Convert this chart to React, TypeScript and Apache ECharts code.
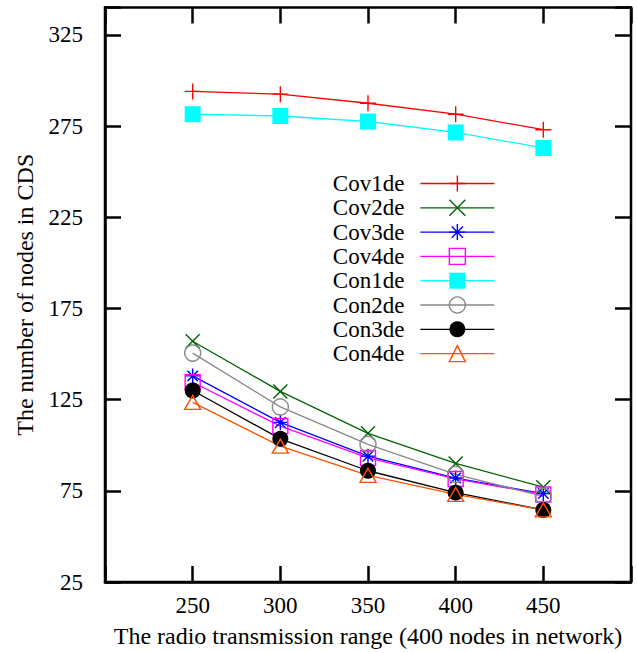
import React, { useEffect, useRef } from "react";
import * as echarts from "echarts";

// Radio transmission range (x) for 400 nodes in the network
const ranges = [250, 300, 350, 400, 450];

// Number of nodes in the CDS for each construction
const cov1de = [294, 292.5, 287.5, 281.5, 273];
const cov2de = [157, 129.5, 106.5, 90, 77];
const cov3de = [138, 112.5, 94, 82, 73.5];
const cov4de = [134.5, 110.5, 93, 81.5, 73];
const con1de = [281.5, 280.5, 277.5, 271.5, 263];
const con2de = [150.5, 121, 100.5, 84, 72];
const con3de = [130, 103.5, 86, 74, 64.5];
const con4de = [123.5, 99.5, 83.5, 73, 64.5];

const xTickLabels = [250, 300, 350, 400, 450];
const yTickLabels = [25, 75, 125, 175, 225, 275, 325];

const FONT = "'Liberation Serif', 'Times New Roman', serif";

const PLUS = "path://M5,0 L5,10 M0,5 L10,5";
const CROSS = "path://M0,0 L10,10 M10,0 L0,10";
const STAR = "path://M5,0 L5,10 M0,5 L10,5 M1.5,1.5 L8.5,8.5 M8.5,1.5 L1.5,8.5";

type Spec = {
  name: string;
  values: number[];
  color: string;
  symbol: string;
  size: number | number[];
  filled: boolean;
};

const specs: Spec[] = [
  { name: "Cov1de", values: cov1de, color: "#ff0000", symbol: PLUS, size: 16, filled: false },
  { name: "Cov2de", values: cov2de, color: "#006400", symbol: CROSS, size: 14, filled: false },
  { name: "Cov3de", values: cov3de, color: "#0000ff", symbol: STAR, size: 15, filled: false },
  { name: "Cov4de", values: cov4de, color: "#ff00ff", symbol: "rect", size: 15, filled: false },
  { name: "Con1de", values: con1de, color: "#00ffff", symbol: "rect", size: 16, filled: true },
  { name: "Con2de", values: con2de, color: "#888888", symbol: "circle", size: 16, filled: false },
  { name: "Con3de", values: con3de, color: "#000000", symbol: "circle", size: 16, filled: true },
  { name: "Con4de", values: con4de, color: "#ff4f00", symbol: "triangle", size: [16, 14], filled: false },
];

export default function App() {
  const ref = useRef<HTMLDivElement>(null);

  useEffect(() => {
    if (!ref.current) return;
    const chart = echarts.init(ref.current, undefined, { renderer: "svg" });

    const series = specs.map((s) => ({
      name: s.name,
      type: "line",
      data: ranges.map((x, i) => [x, s.values[i]]),
      symbol: s.symbol,
      symbolSize: s.size,
      showAllSymbol: true,
      lineStyle: { color: s.color, width: 1.3 },
      itemStyle: {
        color: s.filled ? s.color : "rgba(255,255,255,0)",
        borderColor: s.color,
        borderWidth: s.filled ? 0 : 1.4,
      },
      emphasis: { disabled: true },
    }));

    const labelX = (v: number) => (xTickLabels.includes(v) ? String(v) : "");
    const labelY = (v: number) => (yTickLabels.includes(v) ? String(v) : "");

    const tickCommon = {
      show: true,
      inside: true,
      length: 16,
      lineStyle: { color: "#000", width: 2.5 },
    };

    chart.setOption({
      animation: false,
      backgroundColor: "#ffffff",
      textStyle: { fontFamily: FONT },
      grid: {
        left: 105,
        right: 6,
        top: 7.5,
        bottom: 70,
        show: true,
        borderColor: "#000",
        borderWidth: 2.5,
        backgroundColor: "transparent",
      },
      legend: {
        show: true,
        orient: "vertical",
        align: "right",
        right: 142,
        top: 172,
        padding: 0,
        itemWidth: 74,
        itemHeight: 20,
        itemGap: 1.3,
        selectedMode: false,
        textStyle: {
          fontFamily: FONT,
          fontSize: 23,
          color: "#000",
          padding: [0, 11, 0, 0],
        },
        data: specs.map((s) => ({
          name: s.name,
          itemStyle: {
            color: s.filled ? s.color : "rgba(255,255,255,0)",
            borderColor: s.color,
            borderWidth: s.filled ? 0 : 1.4,
          },
          lineStyle: { color: s.color, width: 1.3 },
        })),
      },
      xAxis: [
        {
          type: "value",
          min: 200,
          max: 500,
          interval: 50,
          position: "bottom",
          name: "The radio transmission range (400 nodes in network)",
          nameLocation: "middle",
          nameGap: 42,
          nameTextStyle: { fontFamily: FONT, fontSize: 24, color: "#000" },
          axisLine: { show: true, lineStyle: { color: "#000", width: 2.5 } },
          axisTick: tickCommon,
          axisLabel: {
            formatter: labelX,
            fontFamily: FONT,
            fontSize: 23,
            color: "#000",
            margin: 12,
          },
          splitLine: { show: false },
        },
        {
          type: "value",
          min: 200,
          max: 500,
          interval: 50,
          position: "top",
          axisLine: { show: false },
          axisTick: tickCommon,
          axisLabel: { show: false },
          splitLine: { show: false },
        },
      ],
      yAxis: [
        {
          type: "value",
          min: 25,
          max: 340,
          interval: 50,
          position: "left",
          name: "The number of nodes in CDS",
          nameLocation: "middle",
          nameGap: 68,
          nameTextStyle: { fontFamily: FONT, fontSize: 24, color: "#000" },
          axisLine: { show: true, lineStyle: { color: "#000", width: 2.5 } },
          axisTick: tickCommon,
          axisLabel: {
            formatter: labelY,
            fontFamily: FONT,
            fontSize: 23,
            color: "#000",
            margin: 22,
          },
          splitLine: { show: false },
        },
        {
          type: "value",
          min: 25,
          max: 340,
          interval: 50,
          position: "right",
          axisLine: { show: false },
          axisTick: tickCommon,
          axisLabel: { show: false },
          splitLine: { show: false },
        },
      ],
      series,
    });

    return () => chart.dispose();
  }, []);

  return (
    <div
      ref={ref}
      style={{ position: "absolute", left: 0, top: 0, width: 637, height: 653 }}
    />
  );
}
